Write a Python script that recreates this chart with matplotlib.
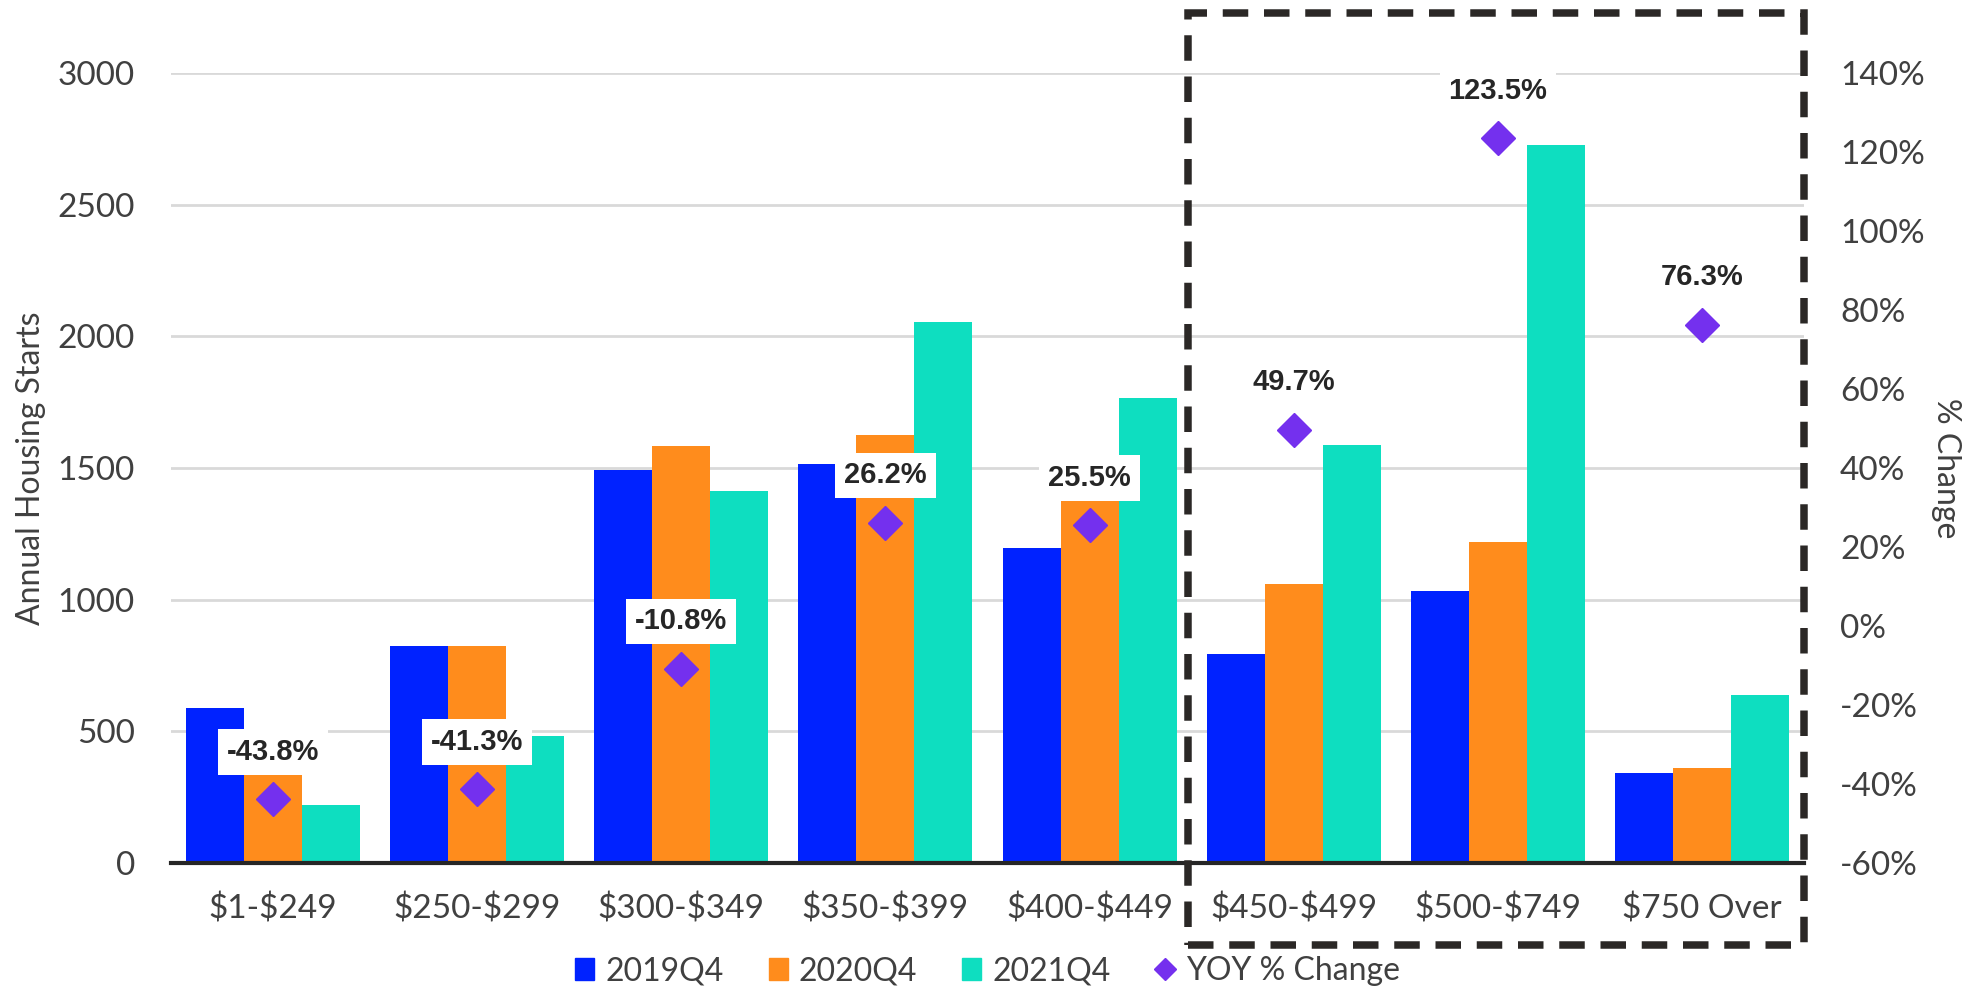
import matplotlib.pyplot as plt
import matplotlib.patches as mpatches
from matplotlib.lines import Line2D
import numpy as np

plt.rcParams['font.family'] = ['Lato', 'DejaVu Sans']

# price bands and annual housing starts per quarter
bands = ['$1-$249', '$250-$299', '$300-$349', '$350-$399', '$400-$449',
         '$450-$499', '$500-$749', '$750 Over']
starts_2019 = [588, 823, 1493, 1517, 1196, 792, 1033, 343]
starts_2020 = [391, 823, 1584, 1627, 1407, 1061, 1220, 362]
starts_2021 = [220, 483, 1413, 2053, 1766, 1589, 2727, 638]
yoy_change = [-43.8, -41.3, -10.8, 26.2, 25.5, 49.7, 123.5, 76.3]

c_2019 = '#0022ff'
c_2020 = '#ff8c1c'
c_2021 = '#0edec0'
c_yoy = '#7430ee'
txt = '#404040'

fig = plt.figure(figsize=(19.75, 9.89), dpi=100)
ax = fig.add_axes([0.0866, 0.1274, 0.8268, 0.7988])
ax2 = ax.twinx()

x = np.arange(len(bands))
w = 0.284
ax.bar(x - w, starts_2019, w, color=c_2019, label='2019Q4', zorder=2)
ax.bar(x, starts_2020, w, color=c_2020, label='2020Q4', zorder=2)
ax.bar(x + w, starts_2021, w, color=c_2021, label='2021Q4', zorder=2)

ax.set_xlim(-0.5, len(bands) - 0.5)
ax.set_ylim(0, 3000)
ax.set_yticks(np.arange(0, 3001, 500))
ax.yaxis.grid(True, color='#d9d9d9', linewidth=2, zorder=0)
ax.set_axisbelow(True)
ax.set_xticks(x)
# escape the dollar signs so they are not read as mathtext
ax.set_xticklabels([b.replace('$', r'\$') for b in bands])
ax.tick_params(axis='both', length=0, labelsize=24, colors=txt)
ax.tick_params(axis='x', pad=22)
ax.tick_params(axis='y', pad=26)
ax.set_ylabel('Annual Housing Starts', fontsize=23, color=txt, labelpad=8)
for s in ['top', 'right', 'left']:
    ax.spines[s].set_visible(False)
ax.spines['bottom'].set_linewidth(3)
ax.spines['bottom'].set_color('#262626')

ax2.plot(x, yoy_change, linestyle='none', marker='D', markersize=17,
         color=c_yoy, zorder=3)
ax2.set_ylim(-60, 140)
ax2.set_yticks(np.arange(-60, 141, 20))
ax2.set_yticklabels([f'{v}%' for v in range(-60, 141, 20)])
ax2.tick_params(axis='y', length=0, labelsize=24, colors=txt, pad=26)
ax2.set_ylabel('% Change', fontsize=23, color=txt, rotation=270, labelpad=26)
for s in ax2.spines.values():
    s.set_visible(False)

for xi, v in zip(x, yoy_change):
    ax2.annotate(f'{v:.1f}%', (xi, v), xytext=(0, 34), textcoords='offset points',
                 ha='center', va='center', fontsize=21, fontweight='bold',
                 family=['Liberation Sans', 'DejaVu Sans'], color='#262626',
                 bbox=dict(boxstyle='square,pad=0.3', fc='white', ec='none'),
                 zorder=5)

# dashed frame around the upper price bands
frame = mpatches.Rectangle((0.6015, 0.0445), 0.9134 - 0.6015, 0.987 - 0.0445,
                           transform=fig.transFigure, fill=False,
                           edgecolor='#2b2826', linewidth=5.4,
                           linestyle=(0, (3.4, 2.1)), clip_on=False, zorder=10)
fig.patches.append(frame)

handles = [
    mpatches.Patch(color=c_2019, label='2019Q4'),
    mpatches.Patch(color=c_2020, label='2020Q4'),
    mpatches.Patch(color=c_2021, label='2021Q4'),
    Line2D([], [], linestyle='none', marker='D', markersize=11, color=c_yoy,
           label='YOY % Change'),
]
fig.legend(handles=handles, loc='center', bbox_to_anchor=(0.5, 0.018), ncol=4,
           frameon=False, fontsize=23, handlelength=0.6, handleheight=0.65,
           handletextpad=0.35, columnspacing=1.4, labelcolor=txt)

fig.savefig('out.png', dpi=100)
